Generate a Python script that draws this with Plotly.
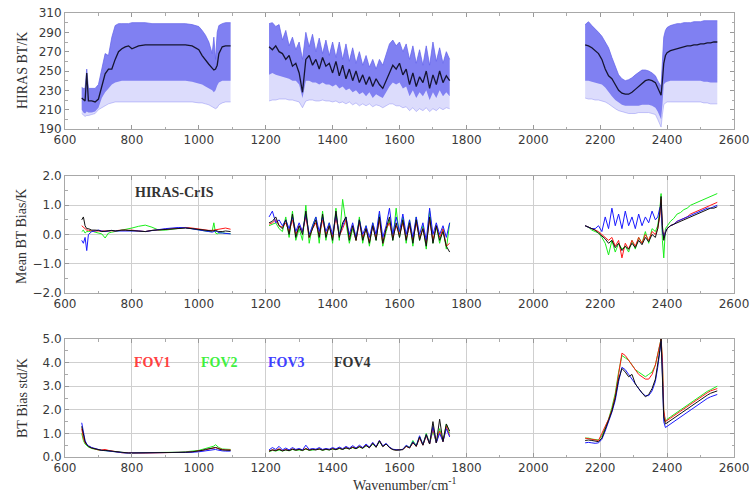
import plotly.graph_objects as go

# ---------------- wavenumber grids (cm-1) ----------------
X1 = [650, 655, 660, 665, 670, 680, 690, 700, 710, 720, 730, 740, 750, 760, 770, 780, 790, 800,
      820, 840, 860, 880, 900, 920, 940, 960, 980, 1000, 1010, 1020, 1030, 1040, 1045, 1050,
      1055, 1060, 1070, 1080, 1095]
X2 = [1210, 1220, 1230, 1240, 1250, 1260, 1270, 1280, 1290, 1300, 1310, 1320, 1330, 1340, 1350,
      1360, 1370, 1380, 1390, 1400, 1410, 1420, 1430, 1440, 1450, 1460, 1470, 1480, 1490, 1500,
      1510, 1520, 1530, 1540, 1550, 1560, 1570, 1580, 1590, 1600, 1610, 1620, 1630, 1640, 1650,
      1660, 1670, 1680, 1690, 1700, 1710, 1720, 1730, 1740, 1750]
X3 = [2155, 2165, 2175, 2185, 2195, 2205, 2215, 2225, 2235, 2245, 2255, 2265, 2275, 2285, 2295,
      2305, 2315, 2325, 2335, 2345, 2355, 2365, 2372, 2378, 2382, 2386, 2390, 2395, 2400, 2410,
      2420, 2430, 2440, 2450, 2460, 2470, 2480, 2490, 2500, 2510, 2520, 2530, 2540, 2550]

# ---------------- top panel: HIRAS BT (K) ----------------
BT_MEAN_1 = [222, 220, 219, 248, 219, 219, 218, 221, 234, 247, 252, 252, 262, 270, 273, 275, 276, 273,
             276, 277, 277, 277, 277, 277, 277, 277, 276, 272, 266, 261, 257, 253, 251, 252, 256, 268,
             275, 276, 276]
BT_UP_1 = [233, 232, 232, 252, 232, 232, 232, 236, 252, 268, 266, 285, 297, 299, 299, 299, 299, 300,
           300, 300, 299, 299, 299, 299, 299, 299, 298, 296, 292, 287, 280, 268, 285, 262, 290, 297,
           299, 300, 300]
BT_DENSE_1 = [210, 207, 206, 208, 207, 207, 208, 212, 222, 228, 232, 236, 238, 239, 240, 240, 240, 240,
              240, 240, 240, 240, 240, 240, 240, 240, 239, 237, 236, 234, 232, 230, 228, 230, 235, 238,
              240, 240, 240]
BT_LOW_1 = [206, 204, 203, 204, 204, 205, 206, 210, 212, 214, 216, 217, 218, 218, 218, 218, 218, 218,
            218, 218, 218, 218, 218, 218, 218, 218, 218, 217, 217, 216, 215, 213, 212, 211, 212, 215,
            217, 218, 218]

BT_MEAN_2 = [275, 272, 276, 270, 268, 262, 266, 255, 258, 248, 228, 262, 266, 256, 262, 252, 264, 255,
             258, 248, 260, 245, 256, 242, 252, 240, 250, 238, 246, 236, 244, 234, 242, 236, 232, 240,
             248, 256, 252, 258, 246, 252, 236, 248, 234, 244, 238, 250, 232, 246, 236, 250, 238, 245, 240]
BT_UP_2 = [299, 300, 296, 298, 282, 292, 276, 285, 272, 280, 262, 290, 275, 288, 270, 284, 268, 282,
           266, 280, 264, 280, 262, 278, 260, 274, 258, 270, 256, 266, 254, 262, 252, 262, 256, 268,
           278, 282, 276, 280, 270, 278, 262, 276, 258, 272, 256, 276, 256, 280, 260, 274, 258, 270, 262]
BT_DENSE_2 = [246, 248, 246, 245, 244, 243, 242, 240, 240, 236, 222, 240, 240, 238, 238, 236, 238, 236,
              236, 234, 236, 232, 234, 230, 232, 228, 230, 226, 228, 224, 228, 222, 226, 224, 222, 228,
              234, 238, 236, 238, 232, 234, 224, 230, 222, 228, 224, 230, 220, 228, 222, 230, 224, 228, 224]
BT_LOW_2 = [219, 220, 220, 221, 221, 221, 220, 220, 219, 218, 212, 219, 220, 220, 219, 219, 220, 219,
            219, 218, 219, 217, 218, 216, 218, 215, 217, 214, 216, 214, 216, 213, 215, 214, 212, 214,
            216, 216, 214, 214, 212, 213, 209, 212, 208, 211, 209, 212, 208, 211, 209, 212, 210, 212, 211]

BT_MEAN_3 = [277, 276, 274, 271, 268, 262, 252, 245, 242, 236, 230, 227, 226, 226, 228, 231, 234, 237,
             240, 241, 240, 238, 232, 228, 225, 240, 258, 266, 269, 271, 272, 273, 274, 275, 276, 276,
             277, 277, 278, 278, 279, 279, 280, 280]
BT_UP_3 = [298, 301, 297, 294, 290, 286, 280, 274, 264, 254, 246, 242, 240, 241, 243, 246, 249, 251,
           251, 250, 248, 245, 240, 236, 234, 260, 285, 292, 295, 297, 298, 299, 299, 300, 300, 300,
           301, 301, 301, 302, 302, 302, 302, 302]
BT_DENSE_3 = [240, 240, 239, 238, 237, 236, 233, 228, 224, 220, 217, 215, 214, 214, 214, 214, 214, 215,
              215, 215, 214, 212, 208, 203, 200, 215, 236, 238, 239, 240, 240, 240, 240, 240, 240, 240,
              240, 240, 240, 239, 239, 238, 238, 238]
BT_LOW_3 = [222, 221, 221, 220, 220, 219, 218, 216, 213, 211, 209, 208, 207, 206, 206, 206, 207, 207,
            207, 207, 206, 205, 200, 196, 192, 205, 215, 217, 218, 218, 218, 218, 218, 218, 218, 218,
            218, 218, 218, 217, 217, 216, 216, 216]

# ---------------- middle panel: mean BT bias (K) ----------------
MB1 = {
    "FOV1": [0.30, 0.25, 0.20, 0.15, 0.15, 0.12, 0.12, 0.12, 0.10, 0.12, 0.12, 0.13, 0.12, 0.14, 0.15, 0.15,
             0.14, 0.15, 0.12, 0.10, 0.14, 0.16, 0.18, 0.20, 0.22, 0.24, 0.22, 0.18, 0.16, 0.15, 0.14, 0.14,
             0.15, 0.16, 0.17, 0.18, 0.20, 0.22, 0.18],
    "FOV2": [0.10, 0.15, 0.05, 0.10, 0.10, 0.12, 0.08, 0.05, 0.02, -0.12, 0.05, 0.08, 0.10, 0.12, 0.14, 0.16,
             0.18, 0.22, 0.28, 0.32, 0.25, 0.15, 0.15, 0.18, 0.22, 0.24, 0.20, 0.16, 0.14, 0.12, 0.10, 0.12,
             0.40, 0.05, 0.02, 0.05, 0.06, 0.04, 0.03],
    "FOV3": [-0.20, -0.30, -0.10, -0.55, 0.00, 0.10, 0.12, 0.15, 0.12, 0.10, 0.12, 0.14, 0.12, 0.12, 0.14, 0.14,
             0.13, 0.14, 0.12, 0.10, 0.14, 0.18, 0.20, 0.22, 0.24, 0.23, 0.20, 0.16, 0.14, 0.12, 0.10, 0.08,
             0.10, 0.12, 0.10, 0.06, 0.05, 0.04, 0.02],
    "FOV4": [0.50, 0.60, 0.30, 0.20, 0.20, 0.15, 0.15, 0.14, 0.10, 0.12, 0.12, 0.14, 0.12, 0.14, 0.15, 0.15,
             0.14, 0.15, 0.12, 0.10, 0.14, 0.16, 0.18, 0.20, 0.22, 0.22, 0.20, 0.17, 0.15, 0.14, 0.12, 0.12,
             0.13, 0.14, 0.12, 0.10, 0.10, 0.12, 0.10],
}
MB2 = {
    "FOV1": [0.35, 0.40, 0.50, 0.30, 0.25, 0.40, 0.10, 0.50, 0.00, 0.30, 0.10, 0.60, -0.10, 0.20, 0.40, -0.05,
             0.50, 0.00, 0.30, -0.10, 0.60, -0.05, 0.20, 0.50, -0.10, 0.30, -0.20, 0.40, -0.10, 0.20, -0.25,
             0.30, -0.10, 0.50, -0.30, 0.20, 0.40, -0.10, 0.30, 0.00, 0.40, -0.15, 0.30, -0.20, 0.40, -0.10,
             0.20, -0.30, 0.50, -0.20, 0.30, -0.10, 0.20, -0.40, -0.30],
    "FOV2": [0.30, 0.35, 0.40, 0.20, 0.10, 0.60, -0.10, 0.80, -0.20, 0.20, -0.20, 1.00, -0.30, 0.30, 0.60, -0.30,
             0.80, -0.20, 0.40, -0.30, 0.90, -0.20, 1.20, 0.40, -0.30, 0.20, -0.20, 0.60, -0.30, 0.30, -0.40,
             0.40, -0.20, 0.70, -0.40, 0.10, 0.50, -0.20, 0.90, -0.10, 0.60, -0.30, 0.50, -0.40, 0.60, -0.20,
             0.30, -0.50, 0.80, -0.30, 0.30, -0.30, 0.20, -0.50, 0.40],
    "FOV3": [0.60, 0.80, 0.40, 0.50, 0.30, 0.50, 0.20, 0.60, 0.10, 0.40, 0.10, 0.70, 0.00, 0.30, 0.60, 0.10,
             0.60, 0.10, 0.40, 0.00, 0.70, 0.00, 0.30, 0.60, 0.00, 0.40, -0.10, 0.50, 0.00, 0.30, -0.10,
             0.40, 0.00, 0.80, -0.10, 0.30, 0.90, 0.00, 0.60, 0.10, 0.70, 0.00, 0.50, -0.10, 0.60, 0.00,
             0.40, -0.20, 0.90, 0.00, 0.40, 0.00, 0.30, -0.10, 0.40],
    "FOV4": [0.40, 0.45, 0.60, 0.30, 0.20, 0.50, 0.00, 0.70, -0.10, 0.30, 0.00, 0.80, -0.10, 0.20, 0.50, -0.10,
             0.70, -0.10, 0.30, -0.20, 0.80, -0.10, 0.40, 0.60, -0.20, 0.30, -0.20, 0.50, -0.20, 0.20, -0.30,
             0.30, -0.20, 0.60, -0.30, 0.20, 0.60, -0.20, 0.40, -0.10, 0.50, -0.20, 0.40, -0.30, 0.50, -0.20,
             0.20, -0.40, 0.60, -0.30, 0.30, -0.20, 0.10, -0.40, -0.60],
}
MB3 = {
    "FOV1": [0.30, 0.25, 0.20, 0.15, 0.10, 0.00, -0.10, -0.20, -0.10, -0.40, -0.20, -0.80, -0.30, -0.50, -0.20,
             -0.40, -0.10, -0.30, 0.00, -0.20, 0.10, 0.00, 0.20, 0.60, 1.20, 0.20, -0.10, 0.10, 0.20, 0.30,
             0.35, 0.45, 0.50, 0.55, 0.60, 0.70, 0.75, 0.80, 0.85, 0.90, 0.95, 1.00, 1.05, 1.10],
    "FOV2": [0.30, 0.25, 0.15, 0.10, 0.05, -0.10, -0.30, -0.70, -0.20, -0.60, -0.30, -0.50, -0.40, -0.60, -0.20,
             -0.50, -0.10, -0.30, 0.10, -0.30, 0.20, 0.10, 0.30, 0.80, 1.40, -0.20, -0.80, 0.20, 0.30, 0.45,
             0.55, 0.70, 0.75, 0.85, 0.90, 1.00, 1.05, 1.10, 1.15, 1.20, 1.25, 1.30, 1.35, 1.40],
    "FOV3": [0.30, 0.25, 0.20, 0.20, 0.30, 0.10, 0.60, 0.20, 0.90, 0.30, 0.70, 0.20, 0.80, 0.30, 0.60,
             0.20, 0.70, 0.30, 0.60, 0.40, 0.80, 0.50, 0.60, 0.90, 1.00, 0.10, -0.10, 0.10, 0.20, 0.30,
             0.35, 0.45, 0.50, 0.55, 0.60, 0.65, 0.70, 0.75, 0.80, 0.85, 0.90, 0.90, 0.95, 1.00],
    "FOV4": [0.30, 0.25, 0.20, 0.15, 0.05, -0.05, -0.15, -0.30, -0.20, -0.45, -0.30, -0.55, -0.40, -0.50, -0.30,
             -0.45, -0.20, -0.35, -0.10, -0.25, 0.00, -0.10, 0.20, 0.70, 1.30, 0.30, -0.20, 0.05, 0.20, 0.30,
             0.35, 0.40, 0.45, 0.50, 0.55, 0.60, 0.65, 0.70, 0.75, 0.80, 0.85, 0.90, 0.90, 0.95],
}

# ---------------- bottom panel: BT bias std (K) ----------------
SD1 = {
    "FOV1": [1.20, 0.80, 0.60, 0.50, 0.45, 0.38, 0.34, 0.30, 0.30, 0.32, 0.28, 0.25, 0.22, 0.20, 0.18, 0.18,
             0.17, 0.17, 0.17, 0.17, 0.17, 0.17, 0.17, 0.18, 0.19, 0.20, 0.22, 0.25, 0.28, 0.30, 0.34, 0.38,
             0.40, 0.40, 0.38, 0.35, 0.32, 0.30, 0.30],
    "FOV2": [1.00, 0.70, 0.55, 0.48, 0.42, 0.36, 0.32, 0.30, 0.28, 0.28, 0.26, 0.24, 0.22, 0.20, 0.19, 0.18,
             0.18, 0.18, 0.18, 0.18, 0.18, 0.18, 0.18, 0.19, 0.20, 0.22, 0.24, 0.28, 0.32, 0.36, 0.40, 0.42,
             0.46, 0.52, 0.45, 0.40, 0.34, 0.32, 0.32],
    "FOV3": [1.45, 1.00, 0.70, 0.55, 0.48, 0.40, 0.35, 0.30, 0.28, 0.27, 0.25, 0.23, 0.21, 0.19, 0.18, 0.17,
             0.17, 0.17, 0.17, 0.17, 0.17, 0.17, 0.17, 0.18, 0.18, 0.19, 0.20, 0.22, 0.24, 0.26, 0.28, 0.30,
             0.32, 0.32, 0.30, 0.28, 0.26, 0.25, 0.25],
    "FOV4": [1.30, 0.90, 0.65, 0.52, 0.45, 0.38, 0.34, 0.30, 0.28, 0.28, 0.26, 0.24, 0.22, 0.20, 0.18, 0.18,
             0.17, 0.17, 0.17, 0.17, 0.17, 0.17, 0.17, 0.18, 0.19, 0.20, 0.22, 0.25, 0.28, 0.32, 0.35, 0.38,
             0.40, 0.40, 0.38, 0.34, 0.30, 0.28, 0.28],
}
SD2 = {
    "FOV1": [0.25, 0.30, 0.28, 0.35, 0.27, 0.32, 0.28, 0.34, 0.30, 0.33, 0.29, 0.36, 0.30, 0.33, 0.31, 0.35,
             0.30, 0.34, 0.31, 0.36, 0.32, 0.38, 0.33, 0.40, 0.35, 0.42, 0.36, 0.45, 0.38, 0.50, 0.40, 0.60,
             0.42, 0.70, 0.45, 0.55, 0.40, 0.32, 0.30, 0.30, 0.32, 0.45, 0.38, 0.60, 0.45, 0.80, 0.50, 0.90,
             0.55, 1.20, 0.60, 1.10, 0.65, 1.30, 0.90],
    "FOV2": [0.22, 0.28, 0.25, 0.30, 0.25, 0.30, 0.26, 0.32, 0.28, 0.30, 0.27, 0.34, 0.28, 0.30, 0.29, 0.33,
             0.28, 0.32, 0.30, 0.34, 0.31, 0.36, 0.32, 0.38, 0.34, 0.40, 0.35, 0.42, 0.37, 0.48, 0.40, 0.55,
             0.42, 0.65, 0.45, 0.55, 0.40, 0.32, 0.30, 0.30, 0.32, 0.48, 0.40, 0.70, 0.48, 0.85, 0.52, 1.00,
             0.58, 1.10, 0.62, 1.20, 0.68, 1.40, 1.00],
    "FOV3": [0.30, 0.40, 0.32, 0.45, 0.30, 0.38, 0.30, 0.40, 0.32, 0.36, 0.30, 0.50, 0.32, 0.36, 0.33, 0.40,
             0.32, 0.36, 0.33, 0.40, 0.34, 0.42, 0.35, 0.45, 0.37, 0.48, 0.38, 0.50, 0.40, 0.55, 0.42, 0.62,
             0.44, 0.70, 0.47, 0.58, 0.42, 0.33, 0.31, 0.30, 0.33, 0.50, 0.40, 0.65, 0.47, 0.90, 0.52, 0.95,
             0.57, 1.30, 0.60, 1.00, 0.66, 1.20, 0.85],
    "FOV4": [0.25, 0.30, 0.27, 0.32, 0.26, 0.30, 0.27, 0.33, 0.29, 0.32, 0.28, 0.35, 0.29, 0.32, 0.30, 0.34,
             0.29, 0.33, 0.30, 0.35, 0.31, 0.37, 0.32, 0.39, 0.34, 0.41, 0.35, 0.44, 0.37, 0.49, 0.39, 0.58,
             0.41, 0.68, 0.44, 0.55, 0.40, 0.31, 0.29, 0.29, 0.31, 0.46, 0.38, 0.62, 0.45, 0.85, 0.50, 0.95,
             0.55, 1.50, 0.60, 1.60, 0.65, 1.40, 1.10],
}
SD3 = {
    "FOV1": [0.80, 0.78, 0.75, 0.72, 0.70, 1.00, 1.30, 1.60, 2.00, 2.60, 3.50, 4.40, 4.30, 4.10, 3.90, 3.70,
             3.50, 3.40, 3.30, 3.30, 3.50, 3.90, 4.30, 4.70, 5.00, 4.20, 2.00, 1.50, 1.55, 1.65, 1.75, 1.85,
             1.95, 2.05, 2.15, 2.25, 2.35, 2.45, 2.55, 2.65, 2.72, 2.80, 2.85, 2.90],
    "FOV2": [0.80, 0.80, 0.76, 0.74, 0.72, 0.90, 1.25, 1.60, 2.10, 2.70, 3.60, 4.30, 4.20, 4.10, 3.90, 3.70,
             3.60, 3.50, 3.40, 3.50, 3.60, 3.90, 4.40, 4.80, 5.00, 4.00, 1.90, 1.50, 1.60, 1.70, 1.80, 1.90,
             2.00, 2.10, 2.20, 2.30, 2.40, 2.50, 2.60, 2.70, 2.78, 2.85, 2.92, 3.00],
    "FOV3": [0.60, 0.62, 0.60, 0.58, 0.60, 0.75, 1.10, 1.50, 1.90, 2.40, 3.20, 3.80, 3.70, 3.50, 3.30, 3.10,
             2.90, 2.70, 2.60, 2.60, 2.80, 3.20, 3.80, 4.40, 4.90, 3.50, 1.50, 1.25, 1.30, 1.40, 1.50, 1.60,
             1.70, 1.80, 1.90, 2.00, 2.10, 2.20, 2.30, 2.40, 2.48, 2.55, 2.60, 2.65],
    "FOV4": [0.70, 0.72, 0.70, 0.68, 0.65, 0.80, 1.15, 1.55, 1.95, 2.50, 3.30, 3.75, 3.60, 3.40, 3.50, 3.10,
             2.90, 2.70, 2.55, 2.65, 2.90, 3.30, 3.90, 4.50, 5.00, 3.70, 1.70, 1.40, 1.45, 1.55, 1.65, 1.75,
             1.85, 1.95, 2.05, 2.15, 2.25, 2.35, 2.45, 2.55, 2.62, 2.70, 2.75, 2.80],
}

FOVS = ["FOV2", "FOV1", "FOV3", "FOV4"]  # drawing order
FOV_COLORS = {"FOV1": "#ff1a1a", "FOV2": "#1aee1a", "FOV3": "#1a1aff", "FOV4": "#111111"}
FOV_LABEL_COLORS = {"FOV1": "#ff4040", "FOV2": "#40f040", "FOV3": "#4040ff", "FOV4": "#333333"}

X_TICKS = [600, 800, 1000, 1200, 1400, 1600, 1800, 2000, 2200, 2400, 2600]


def joined(a, b, c):
    return list(a) + [None] + list(b) + [None] + list(c)


XALL = joined(X1, X2, X3)

fig = go.Figure()

# ---- top panel: envelopes of spectra + mean ----
LIGHT = "rgba(150,150,246,0.33)"
DENSE = "rgba(112,112,240,0.85)"
for xs, lo, dl, up in [(X1, BT_LOW_1, BT_DENSE_1, BT_UP_1),
                       (X2, BT_LOW_2, BT_DENSE_2, BT_UP_2),
                       (X3, BT_LOW_3, BT_DENSE_3, BT_UP_3)]:
    fig.add_trace(go.Scatter(x=xs, y=lo, mode="lines", line=dict(width=0.8, color="rgba(140,140,245,0.6)"),
                             showlegend=False, hoverinfo="skip", xaxis="x", yaxis="y"))
    fig.add_trace(go.Scatter(x=xs, y=up, mode="lines", line=dict(width=0, color=LIGHT),
                             fill="tonexty", fillcolor=LIGHT,
                             showlegend=False, hoverinfo="skip", xaxis="x", yaxis="y"))
    fig.add_trace(go.Scatter(x=xs, y=dl, mode="lines", line=dict(width=0, color=DENSE),
                             showlegend=False, hoverinfo="skip", xaxis="x", yaxis="y"))
    fig.add_trace(go.Scatter(x=xs, y=up, mode="lines", line=dict(width=0.8, color="rgba(100,100,235,0.9)"),
                             fill="tonexty", fillcolor=DENSE,
                             showlegend=False, hoverinfo="skip", xaxis="x", yaxis="y"))

fig.add_trace(go.Scatter(x=XALL, y=joined(BT_MEAN_1, BT_MEAN_2, BT_MEAN_3), mode="lines",
                         line=dict(width=1.3, color="#151530"), showlegend=False,
                         xaxis="x", yaxis="y"))

# ---- middle & bottom panels ----
for fov in FOVS:
    fig.add_trace(go.Scatter(x=XALL, y=joined(MB1[fov], MB2[fov], MB3[fov]), mode="lines",
                             line=dict(width=1, color=FOV_COLORS[fov]), name=fov, showlegend=False,
                             xaxis="x2", yaxis="y2"))
for fov in FOVS:
    fig.add_trace(go.Scatter(x=XALL, y=joined(SD1[fov], SD2[fov], SD3[fov]), mode="lines",
                             line=dict(width=1, color=FOV_COLORS[fov]), name=fov, showlegend=False,
                             xaxis="x3", yaxis="y3"))

TICKFONT = dict(family="DejaVu Sans", size=12, color="#3a3a3a")
XDOM = [65 / 750, 734 / 750]


def px_dom(top, bottom):
    return [1 - bottom / 496, 1 - top / 496]


def xaxis(anchor, grid):
    return dict(domain=XDOM, anchor=anchor, range=[600, 2600], tickvals=X_TICKS,
                ticks="inside", ticklen=4, tickcolor="#999", tickwidth=1,
                minor=dict(dtick=100, tick0=600, ticks="inside", ticklen=2.5, tickcolor="#aaa", showgrid=False),
                showline=True, linecolor="#a8a8a8", linewidth=1, mirror="ticks",
                showgrid=grid, gridcolor="#cfcfcf", gridwidth=1, zeroline=False,
                tickfont=TICKFONT, automargin=False)


def yaxis(anchor, dom, rng, dtick, minor, fmt, grid):
    return dict(domain=dom, anchor=anchor, range=rng, dtick=dtick, tick0=rng[0], tickformat=fmt,
                ticks="inside", ticklen=4, tickcolor="#999", tickwidth=1,
                minor=dict(dtick=minor, ticks="inside", ticklen=2.5, tickcolor="#aaa", showgrid=False),
                showline=True, linecolor="#a8a8a8", linewidth=1, mirror="ticks",
                showgrid=grid, gridcolor="#cfcfcf", gridwidth=1, zeroline=False,
                tickfont=TICKFONT, automargin=False)


SERIF = "Liberation Serif"
annotations = [
    dict(text="HIRAS BT/K", x=22 / 750, y=1 - 71 / 496, textangle=-90),
    dict(text="Mean BT Bias/K", x=22 / 750, y=1 - 237 / 496, textangle=-90),
    dict(text="BT Bias std/K", x=22 / 750, y=1 - 398 / 496, textangle=-90),
    dict(text="Wavenumber/cm<sup>-1</sup>", x=405 / 750, y=1 - 484 / 496, textangle=0),
]
for a in annotations:
    a.update(xref="paper", yref="paper", showarrow=False, xanchor="center", yanchor="middle",
             font=dict(family=SERIF, size=14, color="#333"))

annotations.append(dict(text="<b>HIRAS-CrIS</b>", x=174 / 750, y=1 - 192 / 496, xref="paper", yref="paper",
                        xanchor="center", yanchor="middle",
                        showarrow=False, font=dict(family=SERIF, size=14, color="#333")))
for fov, cx in [("FOV1", 152), ("FOV2", 219), ("FOV3", 286), ("FOV4", 352)]:
    annotations.append(dict(text="<b>%s</b>" % fov, x=cx / 750, y=1 - 362 / 496, xref="paper", yref="paper",
                            xanchor="center", yanchor="middle",
                            showarrow=False, font=dict(family=SERIF, size=14, color=FOV_LABEL_COLORS[fov])))

fig.update_layout(
    width=750, height=496,
    margin=dict(l=0, r=0, t=0, b=0),
    paper_bgcolor="white", plot_bgcolor="white",
    showlegend=False,
    xaxis=xaxis("y", False),
    xaxis2=xaxis("y2", True),
    xaxis3=xaxis("y3", True),
    yaxis=yaxis("x", px_dom(13, 129), [190, 310], 20, 10, "d", False),
    yaxis2=yaxis("x2", px_dom(176, 293), [-2, 2], 1, 0.5, ".1f", True),
    yaxis3=yaxis("x3", px_dom(339, 457), [0, 5], 1, 0.5, ".1f", True),
    annotations=annotations,
)

fig.write_html("out.html",
               config={"displayModeBar": False},
               post_script="document.body.style.margin='0';document.body.style.padding='0';"
                           "document.documentElement.style.overflow='hidden';")
